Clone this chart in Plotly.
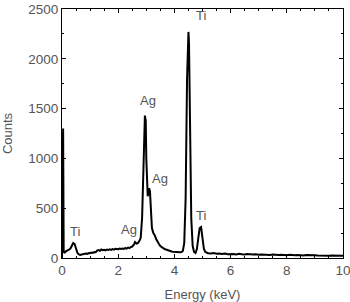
import plotly.graph_objects as go

energy = [0.00, 0.02, 0.04, 0.06, 0.10, 0.15, 0.20, 0.25, 0.30, 0.35, 0.40, 0.45, 0.50, 0.55, 0.60,
          0.65, 0.70, 0.75, 0.80, 0.85, 0.90, 0.95, 1.00, 1.05, 1.10, 1.15, 1.20, 1.25, 1.30, 1.35,
          1.40, 1.45, 1.50, 1.55, 1.60, 1.65, 1.70, 1.75, 1.80, 1.85, 1.90, 1.95, 2.00, 2.05, 2.10,
          2.15, 2.20, 2.25, 2.30, 2.35, 2.40, 2.45, 2.50, 2.55, 2.60, 2.65, 2.70, 2.75, 2.80, 2.85,
          2.90, 2.95, 2.98, 3.00, 3.05, 3.10, 3.13, 3.16, 3.20, 3.25, 3.30, 3.35, 3.40, 3.45, 3.50,
          3.55, 3.60, 3.65, 3.70, 3.75, 3.80, 3.85, 3.90, 3.95, 4.00, 4.05, 4.10, 4.15, 4.20, 4.25,
          4.30, 4.35, 4.40, 4.45, 4.50, 4.52, 4.55, 4.60, 4.65, 4.70, 4.75, 4.80, 4.85, 4.90, 4.95,
          5.00, 5.05, 5.10, 5.15, 5.20, 5.30, 5.40, 5.50, 5.60, 5.70, 5.80, 5.90, 6.00, 6.10, 6.20,
          6.30, 6.40, 6.50, 6.60, 6.70, 6.80, 6.90, 7.00, 7.10, 7.20, 7.30, 7.40, 7.50, 7.60, 7.70,
          7.80, 7.90, 8.00, 8.10, 8.20, 8.30, 8.40, 8.50, 8.60, 8.70, 8.80, 8.90, 9.00, 9.10, 9.20,
          9.30, 9.40, 9.50, 9.60, 9.70, 9.80, 9.90, 10.00]
counts = [0, 1300, 1300, 60, 55, 70, 75, 85, 95, 125, 150, 140, 90, 50, 35,
          30, 35, 40, 38, 45, 42, 50, 48, 55, 52, 60, 58, 75, 80, 72,
          85, 78, 82, 76, 85, 80, 88, 82, 90, 84, 92, 86, 88, 95, 90,
          96, 92, 100, 95, 104, 100, 110, 115, 130, 160, 145, 150, 170, 200, 400,
          900, 1430, 1380, 1000, 620, 700, 670, 520, 300, 250, 230, 190, 160, 140, 120,
          110, 95, 90, 85, 78, 72, 70, 65, 62, 60, 58, 60, 55, 58, 60,
          70, 150, 600, 1800, 2270, 2150, 1300, 400, 120, 60, 50, 90, 200, 300, 310,
          200, 90, 60, 50, 48, 45, 50, 42, 46, 40, 44, 38, 42, 40, 36,
          42, 38, 35, 40, 36, 34, 38, 33, 36, 32, 35, 30, 34, 31, 29,
          33, 30, 28, 32, 29, 27, 31, 28, 26, 30, 27, 25, 28, 26, 24,
          27, 25, 23, 26, 24, 22, 25, 23]

label_text = ["Ti", "Ag", "Ag", "Ag", "Ti", "Ti"]
label_x = [0.45, 2.4, 3.05, 3.5, 4.95, 4.95]
label_y = [270, 290, 1580, 800, 2430, 430]

x_ticks = [0, 2, 4, 6, 8, 10]
y_ticks = [0, 500, 1000, 1500, 2000, 2500]

FONT = "Liberation Sans, Arial, sans-serif"
GRAY = "#555555"

fig = go.Figure()
fig.add_trace(go.Scatter(x=energy, y=counts, mode="lines",
                         line=dict(color="black", width=2), showlegend=False))

for t, x, y in zip(label_text, label_x, label_y):
    fig.add_annotation(x=x, y=y, text=t, showarrow=False,
                       font=dict(family=FONT, size=13, color=GRAY))

axis_common = dict(showline=True, linecolor="black", linewidth=1, mirror="ticks",
                   ticks="inside", ticklen=4, tickcolor="black", showgrid=False,
                   zeroline=False, automargin=False, ticklabeloverflow="allow",
                   tickfont=dict(family=FONT, size=13.5, color=GRAY))

fig.update_xaxes(range=[0, 10], tickvals=x_ticks,
                 minor=dict(dtick=0.5, ticks="inside", ticklen=2, tickcolor="black"),
                 title=dict(text="Energy (keV)", font=dict(family=FONT, size=13, color=GRAY),
                            standoff=12),
                 **axis_common)
fig.update_yaxes(range=[0, 2500], tickvals=y_ticks,
                 minor=dict(dtick=250, ticks="inside", ticklen=2, tickcolor="black"),
                 title=dict(text="Counts", font=dict(family=FONT, size=13, color=GRAY),
                            standoff=12),
                 **axis_common)

fig.update_layout(width=350, height=302, margin=dict(l=62, r=7, t=9, b=44),
                  paper_bgcolor="white", plot_bgcolor="white")

fig.write_html("out.html", config={"displayModeBar": False},
               post_script="document.body.style.margin='0';")
